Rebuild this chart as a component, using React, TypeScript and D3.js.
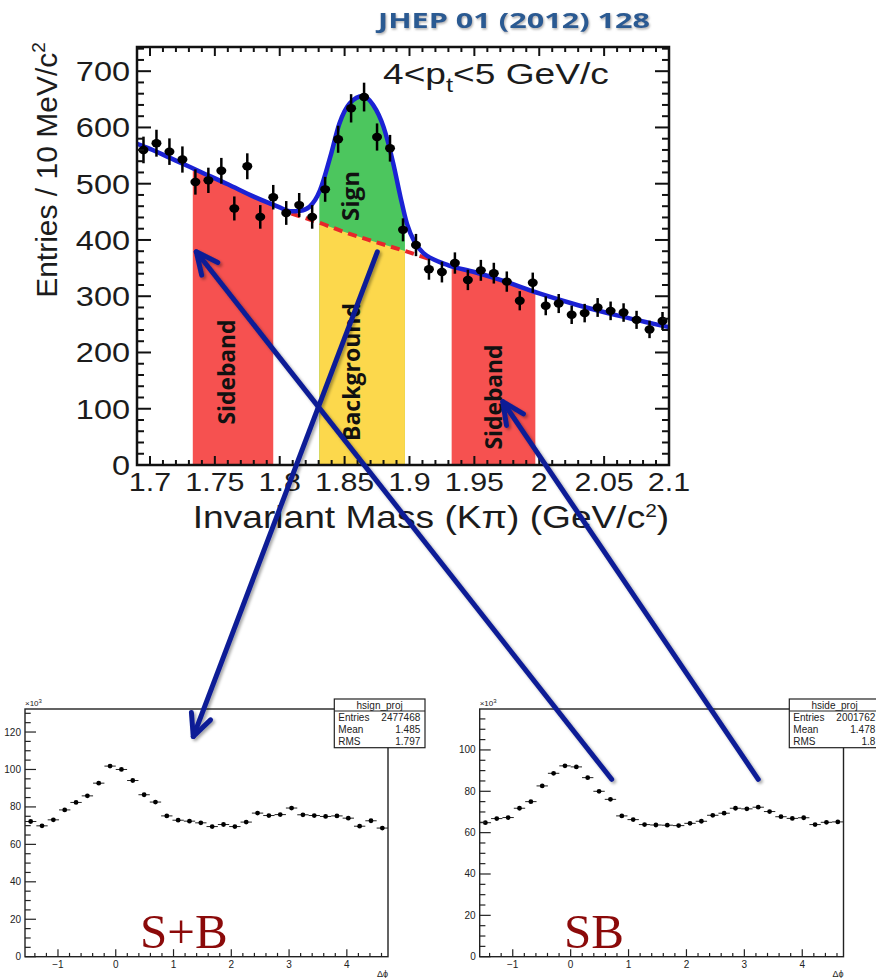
import React, { useEffect, useRef } from 'react';
import * as d3 from 'd3';

const W = 876;
const H = 978;

// ---- top panel: K pi invariant mass, 4 < pt < 5 GeV/c, 10 MeV bins
const massCenters = d3.range(41).map(i => 1.695 + i * 0.01);
const massCounts = [
  560, 572, 557, 543, 503, 506, 523, 456, 531, 441,
  476, 448, 462, 441, 490, 579, 634, 654, 583, 563,
  418, 391, 348, 343, 359, 329, 346, 341, 326, 292,
  324, 283, 287, 267, 270, 280, 274, 271, 258, 241, 256,
];

// fitted signal + background
const fitMass = [
  1.69, 1.70, 1.72, 1.74, 1.76, 1.78, 1.80, 1.808, 1.816, 1.823,
  1.831, 1.839, 1.846, 1.854, 1.864, 1.872, 1.880, 1.8875, 1.893, 1.898,
  1.904, 1.911, 1.92, 1.93, 1.95, 1.97, 2.00, 2.03, 2.06, 2.10,
];
const fitValue = [
  571, 562, 541, 520, 499, 477, 458, 451, 452, 459,
  488, 548, 607, 643, 656, 640, 601, 536, 477, 429,
  396, 376, 364, 355, 343, 329, 305, 284, 266, 245,
];

// background-only part under the peak (red dashed)
const bkgMass = [1.809, 1.83, 1.85, 1.87, 1.897, 1.918];
const bkgValue = [447, 431, 414, 399, 380, 364];

const sidebandLeft = [1.733, 1.795];
const signalRange = [1.8305, 1.8965];
const sidebandRight = [1.9325, 1.997];

const massTicks = [1.7, 1.75, 1.8, 1.85, 1.9, 1.95, 2, 2.05, 2.1];
const massTickLabels = ['1.7', '1.75', '1.8', '1.85', '1.9', '1.95', '2', '2.05', '2.1'];
const countTicks = [0, 100, 200, 300, 400, 500, 600, 700];

// ---- bottom panels: delta phi projections (x10^3 entries)
const dphiCenters = d3.range(32).map(i => -Math.PI / 2 + (i + 0.5) * Math.PI / 16);
const signProj = [
  72.2, 69.9, 73.1, 78.4, 82.4, 85.9, 92.7, 101.8, 100.0, 94.1,
  86.5, 82.6, 75.2, 72.9, 72.4, 71.5, 69.5, 70.6, 69.5, 71.9,
  76.7, 75.4, 75.9, 79.4, 75.8, 75.4, 74.9, 75.2, 74.0, 69.7, 72.6, 68.7,
];
const sideProj = [
  64.8, 66.8, 67.3, 71.8, 75.0, 82.6, 88.7, 92.3, 91.8, 86.6,
  80.0, 76.1, 68.1, 66.3, 63.9, 63.7, 63.6, 63.4, 64.5, 65.5,
  68.4, 69.4, 71.8, 71.5, 72.3, 70.2, 67.7, 66.9, 67.2, 63.9, 65.0, 65.2,
];
const dphiTicks = [-1, 0, 1, 2, 3, 4];
const projTicks = [0, 20, 40, 60, 80, 100, 120];
const statLabels = ['Entries', 'Mean', 'RMS'];
const signStats = ['2477468', '1.485', '1.797'];
const sideStats = ['2001762', '1.478', '1.8'];

const SANS = 'Liberation Sans, Arial, Helvetica, sans-serif';
const ARROW = '#0c1c96';

type Sel = d3.Selection<any, unknown, null, undefined>;

// ROOT-style stretched label for the (horizontally stretched) top picture
const mtext = (g: Sel, x: number, y: number, txt: string, size: number, anchor = 'middle', sx = 1.12) =>
  g.append('text')
    .attr('transform', `translate(${x},${y}) scale(${sx},1)`)
    .attr('text-anchor', anchor)
    .attr('font-family', SANS)
    .attr('font-size', size)
    .attr('fill', '#1c1c1c')
    .text(txt);

const App: React.FC = () => {
  const svgRef = useRef<SVGSVGElement>(null);

  useEffect(() => {
    if (!svgRef.current) return;
    document.body.style.margin = '0';
    const svg = d3.select(svgRef.current);
    svg.selectAll('*').remove();
    const defs = svg.append('defs');

    const sh = defs.append('filter').attr('id', 'shadow').attr('x', '-20%').attr('y', '-20%').attr('width', '140%').attr('height', '140%');
    sh.append('feDropShadow').attr('dx', 2).attr('dy', 2).attr('stdDeviation', 1.8)
      .attr('flood-color', '#000').attr('flood-opacity', 0.35);
    const tsh = defs.append('filter').attr('id', 'tshadow');
    tsh.append('feDropShadow').attr('dx', 1).attr('dy', 1.5).attr('stdDeviation', 1.2)
      .attr('flood-color', '#777').attr('flood-opacity', 0.6);

    // ================= top panel =================
    const mx = d3.scaleLinear().domain([1.69, 2.10]).range([137, 669]);
    const my = d3.scaleLinear().domain([0, 743]).range([465, 47]);
    const top = svg.append('g');

    const fitPts = fitValue.map((v, i) => [fitMass[i], v] as [number, number]);
    const bkgPts = bkgValue.map((v, i) => [bkgMass[i], v] as [number, number]);

    const areaFit = d3.area<[number, number]>()
      .x(d => mx(d[0])).y0(my(0)).y1(d => my(d[1])).curve(d3.curveMonotoneX);
    const lineFit = d3.line<[number, number]>()
      .x(d => mx(d[0])).y(d => my(d[1])).curve(d3.curveMonotoneX);

    const clip = (id: string, r: number[]) => {
      defs.append('clipPath').attr('id', id).append('rect')
        .attr('x', mx(r[0])).attr('width', mx(r[1]) - mx(r[0]))
        .attr('y', my(743)).attr('height', my(0) - my(743));
    };
    clip('cl-sbl', sidebandLeft);
    clip('cl-sig', signalRange);
    clip('cl-sbr', sidebandRight);

    top.append('path').datum(fitPts).attr('d', areaFit).attr('fill', '#f65150').attr('clip-path', 'url(#cl-sbl)');
    top.append('path').datum(fitPts).attr('d', areaFit).attr('fill', '#f65150').attr('clip-path', 'url(#cl-sbr)');
    top.append('path').datum(fitPts).attr('d', areaFit).attr('fill', '#4cc65e').attr('clip-path', 'url(#cl-sig)');
    top.append('path').datum(bkgPts).attr('d', areaFit).attr('fill', '#fcd84c').attr('clip-path', 'url(#cl-sig)');

    top.append('path').datum(bkgPts).attr('d', lineFit)
      .attr('fill', 'none').attr('stroke', '#e8262a').attr('stroke-width', 4).attr('stroke-dasharray', '9,6');
    top.append('path').datum(fitPts).attr('d', lineFit)
      .attr('fill', 'none').attr('stroke', '#1b22d4').attr('stroke-width', 4.5);

    // data points with Poisson errors
    const pts = top.append('g');
    massCounts.forEach((v, i) => {
      const cx = mx(massCenters[i]);
      const e = Math.sqrt(v);
      pts.append('line').attr('x1', cx).attr('x2', cx).attr('y1', my(v - e)).attr('y2', my(v + e))
        .attr('stroke', '#000').attr('stroke-width', 2.5);
      pts.append('ellipse').attr('cx', cx).attr('cy', my(v)).attr('rx', 5).attr('ry', 4.2).attr('fill', '#000');
    });

    // frame and ticks
    top.append('rect').attr('x', 137).attr('y', 47).attr('width', 532).attr('height', 418)
      .attr('fill', 'none').attr('stroke', '#111').attr('stroke-width', 2.5);
    const tk = top.append('g').attr('stroke', '#111').attr('stroke-width', 2);
    d3.range(169, 211).map(k => k / 100).forEach(t => {
      const isMajor = Math.abs(t * 20 - Math.round(t * 20)) < 1e-6;
      const L = isMajor ? 9 : 5;
      tk.append('line').attr('x1', mx(t)).attr('x2', mx(t)).attr('y1', my(0)).attr('y2', my(0) - L);
      tk.append('line').attr('x1', mx(t)).attr('x2', mx(t)).attr('y1', my(743)).attr('y2', my(743) + L);
    });
    d3.range(0, 741, 20).forEach(t => {
      const L = t % 100 === 0 ? 14 : 7;
      tk.append('line').attr('x1', 137).attr('x2', 137 + L).attr('y1', my(t)).attr('y2', my(t));
      tk.append('line').attr('x1', 669).attr('x2', 669 - L).attr('y1', my(t)).attr('y2', my(t));
    });

    countTicks.forEach(t => mtext(top, 130, my(t) + 10, String(t), 28, 'end', 1.16));
    massTicks.forEach((t, i) => mtext(top, mx(t), 491, massTickLabels[i], 26, 'middle', 1.17));

    const xt = mtext(top, 431, 528, '', 32, 'middle', 1.16);
    xt.append('tspan').text('Invariant Mass (K\u03c0) (GeV/c');
    xt.append('tspan').attr('font-size', 18).attr('dy', -11).text('2');
    xt.append('tspan').attr('dy', 11).text(')');

    const yt = top.append('text').attr('transform', 'translate(57,170) rotate(-90)')
      .attr('text-anchor', 'middle').attr('font-family', SANS).attr('font-size', 30).attr('fill', '#1c1c1c');
    yt.append('tspan').text('Entries / 10 MeV/c');
    yt.append('tspan').attr('font-size', 19).attr('dy', -12).text('2');

    const pt = mtext(top, 383, 84, '', 29, 'start', 1.28);
    pt.append('tspan').text('4<p');
    pt.append('tspan').attr('font-size', 20).attr('dy', 8).text('t');
    pt.append('tspan').attr('dy', -8).text('<5 GeV/c');

    const bandLabel = (x: number, y: number, txt: string, len: number) =>
      top.append('text').attr('transform', `translate(${x},${y}) rotate(-90)`)
        .attr('text-anchor', 'middle').attr('font-family', 'Open Sans, DejaVu Sans, sans-serif')
        .attr('font-weight', 'bold').attr('font-size', 23).attr('fill', '#111')
        .attr('textLength', len).attr('lengthAdjust', 'spacingAndGlyphs').text(txt);
    bandLabel(359, 196, 'Sign', 50);
    bandLabel(235, 372, 'Sideband', 105);
    bandLabel(360, 372, 'Background', 138);
    bandLabel(502, 397, 'Sideband', 105);

    svg.append('text').attr('x', 378).attr('y', 28).attr('font-family', 'Open Sans, DejaVu Sans, sans-serif')
      .attr('font-weight', 'bold').attr('font-size', 21).attr('fill', '#2b5a92')
      .attr('textLength', 272).attr('lengthAdjust', 'spacingAndGlyphs')
      .attr('filter', 'url(#tshadow)').text('JHEP 01 (2012) 128');

    // ================= bottom panels =================
    const lx = d3.scaleLinear().domain([-Math.PI / 2, 3 * Math.PI / 2]).range([25, 388]);
    const ly = d3.scaleLinear().domain([0, 132.3]).range([956.7, 709]);
    const rx = d3.scaleLinear().domain([-Math.PI / 2, 3 * Math.PI / 2]).range([479.7, 843.5]);
    const ry = d3.scaleLinear().domain([0, 119.8]).range([956.7, 709]);

    const drawProj = (
      xs: d3.ScaleLinear<number, number>, ys: d3.ScaleLinear<number, number>,
      values: number[], name: string, stats: string[], boxX: number, big: string, bigX: number,
    ) => {
      const g = svg.append('g');
      const [x0, x1] = xs.range();
      const [yb, yt2] = ys.range();
      const yMax = ys.domain()[1];
      const bw = (xs(dphiCenters[1]) - xs(dphiCenters[0])) / 2;

      values.forEach((v, i) => {
        const cx = xs(dphiCenters[i]);
        g.append('line').attr('x1', cx - bw).attr('x2', cx + bw).attr('y1', ys(v)).attr('y2', ys(v))
          .attr('stroke', '#222').attr('stroke-width', 1);
        g.append('circle').attr('cx', cx).attr('cy', ys(v)).attr('r', 2.4).attr('fill', '#000');
      });

      const fr = g.append('g').attr('stroke', '#222').attr('stroke-width', 1.4).attr('fill', 'none');
      fr.append('rect').attr('x', x0).attr('y', yt2).attr('width', x1 - x0).attr('height', yb - yt2);

      const tg = g.append('g').attr('stroke', '#222').attr('stroke-width', 1.2);
      d3.range(0, yMax, 5).forEach(t => {
        const L = t % 20 === 0 ? 11 : 5.7;
        tg.append('line').attr('x1', x0).attr('x2', x0 + L).attr('y1', ys(t)).attr('y2', ys(t));
      });
      d3.range(-7, 24).map(k => k / 5).forEach(t => {
        const L = Number.isInteger(Math.round(t * 1e6) / 1e6) ? 7.5 : 3.8;
        tg.append('line').attr('x1', xs(t)).attr('x2', xs(t)).attr('y1', yb).attr('y2', yb - L);
      });

      const lab = g.append('g').attr('font-family', SANS).attr('font-size', 10).attr('fill', '#222');
      projTicks.filter(t => t <= yMax).forEach(t =>
        lab.append('text').attr('x', x0 - 4).attr('y', ys(t) + 3.5).attr('text-anchor', 'end').text(String(t)));
      dphiTicks.forEach(t =>
        lab.append('text').attr('x', xs(t)).attr('y', 968).attr('text-anchor', 'middle')
          .text(t < 0 ? `\u2212${Math.abs(t)}` : String(t)));
      const ex = lab.append('text').attr('x', x0).attr('y', 706).attr('font-size', 8);
      ex.append('tspan').text('\u00d710');
      ex.append('tspan').attr('font-size', 6).attr('dy', -3).text('3');
      lab.append('text').attr('x', x1).attr('y', 977).attr('text-anchor', 'end').attr('font-size', 9).text('\u0394\u03d5');

      // stats box
      const sb = g.append('g');
      sb.append('rect').attr('x', boxX).attr('y', 699).attr('width', 90.7).attr('height', 48.7)
        .attr('fill', '#fff').attr('stroke', '#222').attr('stroke-width', 1.2);
      sb.append('line').attr('x1', boxX).attr('x2', boxX + 90.7).attr('y1', 711).attr('y2', 711)
        .attr('stroke', '#222').attr('stroke-width', 1);
      sb.append('text').attr('x', boxX + 45.35).attr('y', 709).attr('text-anchor', 'middle')
        .attr('font-family', SANS).attr('font-size', 10).attr('fill', '#222').text(name);
      statLabels.forEach((s, i) => {
        const yy = 720.5 + i * 12.2;
        sb.append('text').attr('x', boxX + 4).attr('y', yy).attr('font-family', SANS).attr('font-size', 10)
          .attr('fill', '#222').text(s);
        sb.append('text').attr('x', boxX + 86).attr('y', yy).attr('text-anchor', 'end').attr('font-family', SANS)
          .attr('font-size', 10).attr('fill', '#222').text(stats[i]);
      });

      g.append('text').attr('x', bigX).attr('y', 948).attr('font-family', 'Liberation Serif, Times New Roman, serif')
        .attr('font-size', 49).attr('fill', '#8b0a0a').text(big);
    };

    drawProj(lx, ly, signProj, 'hsign_proj', signStats, 334.3, 'S+B', 140);
    drawProj(rx, ry, sideProj, 'hside_proj', sideStats, 789.3, 'SB', 564);

    // ================= arrows linking the panels =================
    const arrows = svg.append('g').attr('filter', 'url(#shadow)')
      .attr('stroke', ARROW).attr('stroke-width', 5).attr('fill', 'none')
      .attr('stroke-linecap', 'round').attr('stroke-linejoin', 'round');
    const arrow = (from: [number, number], to: [number, number]) => {
      const [fx, fy] = from;
      const [tx, ty] = to;
      const a = Math.atan2(fy - ty, fx - tx);
      const len = 24;
      const sp = 0.44;
      arrows.append('line').attr('x1', fx).attr('y1', fy).attr('x2', tx).attr('y2', ty);
      arrows.append('polyline').attr('points', [
        [tx + len * Math.cos(a - sp), ty + len * Math.sin(a - sp)],
        [tx, ty],
        [tx + len * Math.cos(a + sp), ty + len * Math.sin(a + sp)],
      ].map(p => p.join(',')).join(' '));
    };
    arrow([mx(1.8752), my(379)], [lx(1.342), ly(117.6)]);
    arrow([rx(0.708), ry(85.8)], [mx(1.7357), my(379)]);
    arrow([rx(3.24), ry(85.8)], [mx(1.9719), my(112.5)]);
  }, []);

  return (
    <svg
      ref={svgRef}
      width={W}
      height={H}
      viewBox={`0 0 ${W} ${H}`}
      style={{ position: 'absolute', left: 0, top: 0, background: '#fff' }}
    />
  );
};

export default App;
